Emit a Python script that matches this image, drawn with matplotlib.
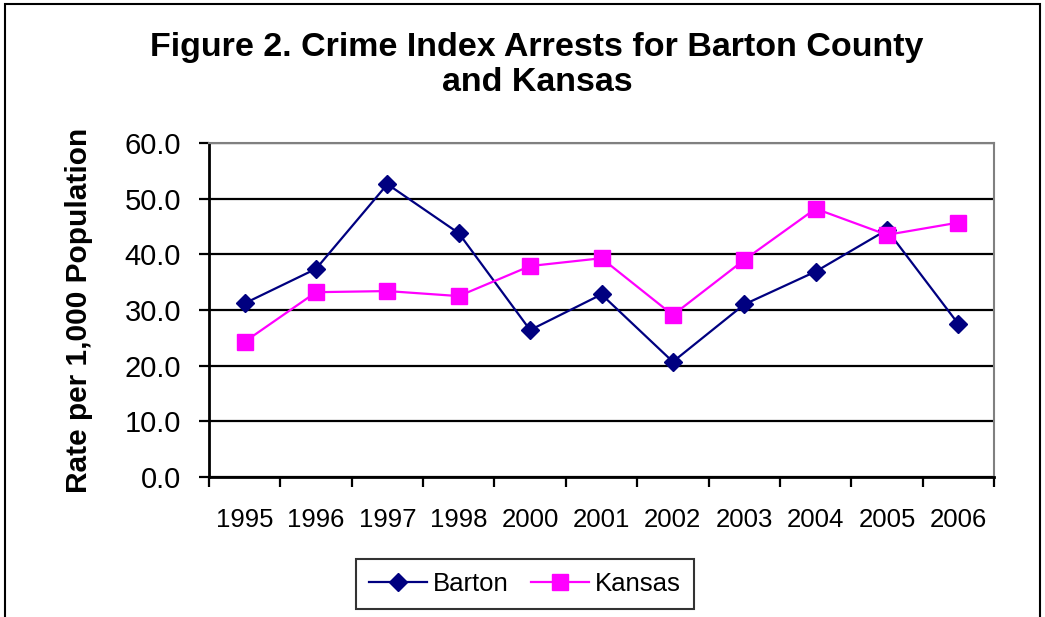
import numpy as np
import matplotlib.pyplot as plt
from matplotlib.patches import Rectangle

years = ['1995', '1996', '1997', '1998', '2000', '2001', '2002', '2003', '2004', '2005', '2006']
barton = [31.2, 37.4, 52.6, 43.8, 26.4, 32.8, 20.7, 31.0, 36.9, 44.4, 27.5]
kansas = [24.3, 33.2, 33.4, 32.5, 37.9, 39.3, 29.1, 39.0, 48.2, 43.5, 45.7]
yticks = [0, 10, 20, 30, 40, 50, 60]

plt.rcParams['font.family'] = ['Liberation Sans', 'DejaVu Sans']

fig = plt.figure(figsize=(10.45, 6.17), dpi=100)
W, H = 1045, 617
ax = fig.add_axes([209 / W, 1 - 477 / H, (994 - 209) / W, (477 - 143) / H])

# outer chart border (bottom edge falls off the picture)
fig.patches.append(Rectangle((5 / W, -0.05), (1040 - 5) / W, 1.05 - 4 / H,
                             transform=fig.transFigure, fill=False,
                             edgecolor='black', linewidth=1.5))

x = np.arange(len(years))
ax.plot(x, barton, color='#000080', linewidth=1.6, marker='D', markersize=9,
        label='Barton', zorder=3)
ax.plot(x, kansas, color='#FF00FF', linewidth=1.6, marker='s', markersize=11,
        label='Kansas', zorder=3)

ax.set_xlim(-0.5, len(years) - 0.5)
ax.set_ylim(0, 60)
ax.set_yticks(yticks)
ax.set_yticklabels([f'{v:.1f}' for v in yticks], fontsize=21)
ax.yaxis.grid(True, color='black', linewidth=1.6)
ax.set_axisbelow(True)

ax.set_xticks(np.arange(-0.5, len(years)), labels=[])
ax.set_xticks(x, labels=years, minor=True)
ax.tick_params(axis='x', which='major', length=7, width=1.6, direction='out')
ax.tick_params(axis='x', which='minor', length=0, pad=22, labelsize=18.5)
ax.tick_params(axis='y', length=7, width=1.6, direction='out', pad=13)

ax.spines['left'].set_linewidth(2)
ax.spines['bottom'].set_linewidth(2)
ax.spines['top'].set_color('#808080')
ax.spines['right'].set_color('#808080')
ax.spines['top'].set_linewidth(1.5)
ax.spines['right'].set_linewidth(1.5)

ax.set_ylabel('Rate per 1,000 Population', fontsize=21.5, fontweight='bold')
ax.yaxis.set_label_coords((93 - 209) / (994 - 209), 0.5)

fig.text(537 / W, 1 - 65 / H, 'Figure 2. Crime Index Arrests for Barton County\nand Kansas',
         ha='center', va='center', fontsize=24.5, fontweight='bold', linespacing=1.15)

leg = fig.legend(loc='center', bbox_to_anchor=(525 / W, 1 - 584 / H), ncol=2,
                 fontsize=18.5, frameon=True, fancybox=False, edgecolor='black',
                 handlelength=2.26, handletextpad=0.25, columnspacing=0.85,
                 borderpad=0.5, borderaxespad=0)
leg.get_frame().set_linewidth(1.5)

fig.savefig('out.png', dpi=100)
